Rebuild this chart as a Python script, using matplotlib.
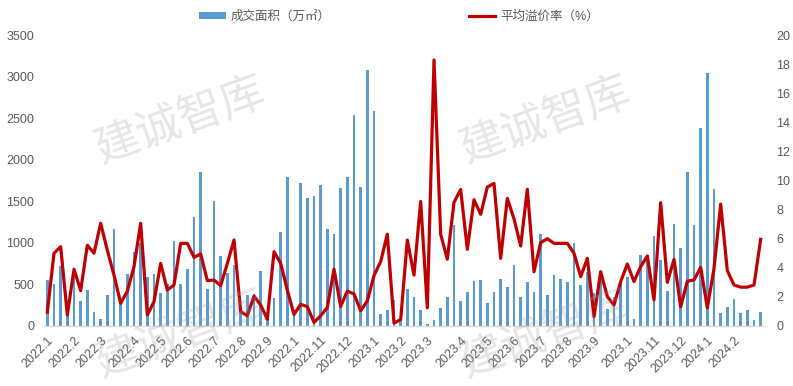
import matplotlib
matplotlib.use("Agg")
import matplotlib.pyplot as plt
from matplotlib.patches import Patch
from matplotlib.lines import Line2D
import numpy as np

plt.rcParams['font.family'] = ['Liberation Sans', 'Noto Sans CJK SC', 'DejaVu Sans']

area = [553, 505, 722, 130, 593, 301, 433, 168, 84, 373,
        1167, 273, 625, 890, 1000, 589, 625, 399, 505, 1022,
        505, 686, 1311, 1853, 445, 1504, 842, 638, 734, 200,
        373, 383, 664, 80, 341, 1131, 1793, 190, 1724, 1544,
        1568, 1700, 1171, 1111, 1664, 1796, 2538, 1674, 3080, 2588,
        144, 192, 315, 60, 447, 349, 192, 24, 72, 216,
        349, 1215, 301, 411, 543, 555, 279, 411, 567, 471,
        736, 351, 531, 411, 1111, 375, 613, 567, 529, 1000,
        493, 651, 397, 540, 200, 345, 529, 591, 84, 850,
        856, 1083, 796, 423, 1227, 938, 1853, 1215, 2382, 3044,
        1648, 158, 231, 325, 158, 194, 72, 170]

rate = [0.95, 5.0, 5.45, 0.76, 3.9, 2.43, 5.55, 5.0, 7.06, 5.2,
        3.5, 1.56, 2.4, 4.08, 7.06, 0.76, 1.67, 4.3, 2.47, 2.82,
        5.68, 5.68, 4.72, 4.95, 3.12, 3.16, 2.77, 4.3, 5.91, 0.98,
        0.71, 2.06, 1.44, 0.46, 5.11, 4.31, 2.47, 0.79, 1.49, 1.33,
        0.25, 0.7, 1.28, 3.9, 1.35, 2.4, 2.2, 1.05, 1.73, 3.47,
        4.42, 6.31, 0.2, 0.44, 5.91, 3.5, 8.56, 1.25, 18.28, 6.3,
        4.59, 8.5, 9.38, 5.27, 8.68, 7.68, 9.55, 9.8, 4.65, 8.77,
        7.36, 5.5, 9.4, 3.73, 5.73, 6.0, 5.68, 5.68, 5.68, 5.0,
        3.39, 4.65, 0.64, 3.73, 2.02, 1.44, 3.05, 4.26, 3.05, 4.08,
        4.81, 1.79, 8.48, 3.0, 4.58, 1.32, 3.08, 3.16, 4.03, 1.25,
        3.95, 8.38, 3.8, 2.82, 2.67, 2.67, 2.82, 5.96]

tick_idx = [0, 4, 8, 13, 17, 21, 25, 29, 33, 37, 41, 45, 49, 53, 57,
            62, 66, 70, 74, 78, 82, 87, 91, 95, 99, 103]
tick_labels = ['2022.1', '2022.2', '2022.3', '2022.4', '2022.5', '2022.6', '2022.7',
               '2022.8', '2022.9', '2022.1', '2022.11', '2022.12', '2023.1', '2023.2',
               '2023.3', '2023.4', '2023.5', '2023.6', '2023.7', '2023.8', '2023.9',
               '2023.1', '2023.11', '2023.12', '2024.1', '2024.2']

name_area = '成交面积（万㎡）'
name_rate = '平均溢价率（%）'

W, H = 793, 386
fig = plt.figure(figsize=(W / 100, H / 100), dpi=100)
ax = fig.add_axes([44 / W, 1 - 326 / H, (764 - 44) / W, (326 - 35) / H])
ax2 = ax.twinx()

x = np.arange(len(area))
ax.bar(x, area, width=0.38, color='#5B9BD5', zorder=2)
ax2.plot(x, rate, color='#C00000', lw=2.3, solid_joinstyle='round', zorder=3)

ax.set_xlim(-0.5, len(area) - 0.5)
ax.set_ylim(0, 3500)
ax.set_yticks(np.arange(0, 3501, 500))
ax2.set_ylim(0, 20)
ax2.set_yticks(np.arange(0, 21, 2))

tc = '#595959'
ax.set_xticks(tick_idx)
ax.set_xticklabels(tick_labels, rotation=45, ha='right', va='top',
                   rotation_mode='anchor', fontsize=9, color=tc)
ax.tick_params(axis='x', length=0, pad=6)
ax.tick_params(axis='y', length=0, labelsize=9, labelcolor=tc, pad=7)
ax2.tick_params(axis='y', length=0, labelsize=9, labelcolor=tc, pad=9)

for a in (ax, ax2):
    for s in ('top', 'left', 'right', 'bottom'):
        a.spines[s].set_visible(False)
ax.spines['bottom'].set_visible(True)
ax.spines['bottom'].set_color('#d9d9d9')
ax.spines['bottom'].set_linewidth(1)

handles = [Patch(facecolor='#5B9BD5', edgecolor='none'),
           Line2D([0], [0], color='#C00000', lw=2.3)]
leg = fig.legend(handles, [name_area, name_rate], loc='center',
                 bbox_to_anchor=(399 / W, 1 - 17 / H), ncol=2, frameon=False,
                 fontsize=9, handlelength=2.1, handleheight=0.5,
                 columnspacing=11.06, handletextpad=0.4, labelcolor=tc)

wm = dict(fontsize=32, rotation=20, color='#9a9a9a', alpha=0.26,
          ha='center', va='center', family=['Noto Sans CJK SC'], zorder=10)
for (cx, cy) in [(180, 120), (545, 120), (180, 334), (545, 334)]:
    fig.text(cx / W, 1 - cy / H, '建诚智库', **wm)

fig.savefig('out.png', dpi=100)
